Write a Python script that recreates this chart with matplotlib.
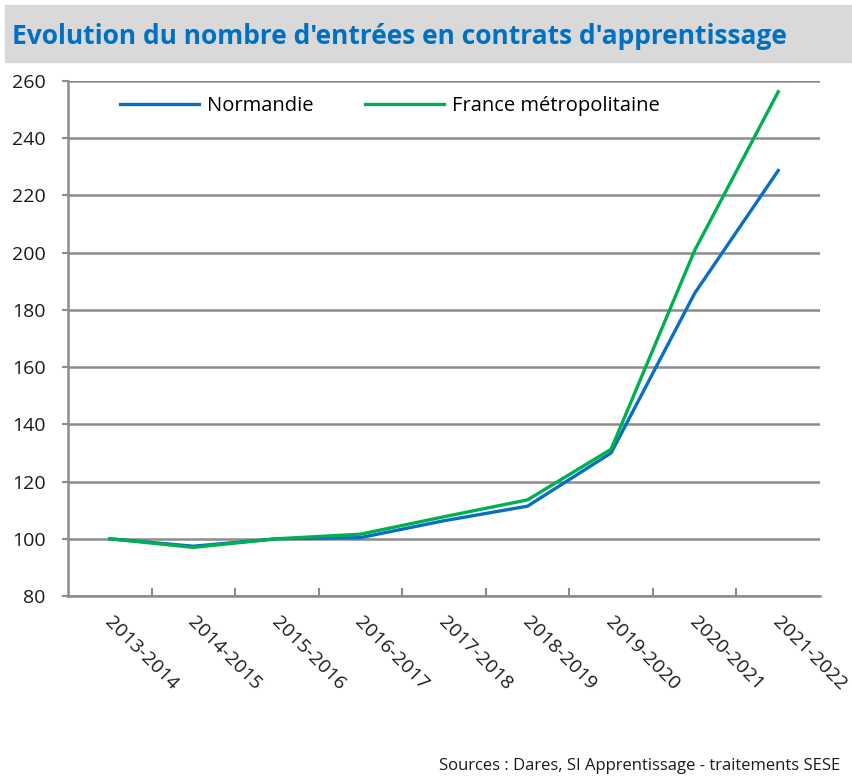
import matplotlib.pyplot as plt
from matplotlib.patches import Rectangle

periodes = ["2013-2014", "2014-2015", "2015-2016", "2016-2017", "2017-2018",
            "2018-2019", "2019-2020", "2020-2021", "2021-2022"]
normandie = [100, 97.4, 100, 100.4, 106.3, 111.4, 130, 185.8, 228.7]
france = [100, 97.0, 100, 101.6, 107.7, 113.6, 131.3, 200.8, 256.2]
y_ticks = [80, 100, 120, 140, 160, 180, 200, 220, 240, 260]

plt.rcParams['font.family'] = ['Open Sans', 'DejaVu Sans']

fig = plt.figure(figsize=(8.53, 7.78), dpi=100)

# bandeau gris du titre
fig.patches.append(Rectangle((5 / 853, 1 - 62 / 778), 848 / 853, 57 / 778,
                             transform=fig.transFigure, color="#d9d9d9", zorder=0))
fig.text(12 / 853, 1 - 36 / 778, "Evolution du nombre d'entrées en contrats d'apprentissage",
         fontsize=19, fontweight='bold', color="#0070c0", va='center', ha='left')

ax = fig.add_axes([68 / 853, 1 - 596 / 778, 752 / 853, 515 / 778])
x = range(len(periodes))
ax.plot(x, normandie, color="#0a6fc2", lw=2.4, label="Normandie", zorder=3)
ax.plot(x, france, color="#00b050", lw=2.4, label="France métropolitaine", zorder=4)

ax.set_xlim(-0.5, len(periodes) - 0.5)
ax.set_ylim(80, 260)
ax.set_yticks(y_ticks)
ax.set_yticklabels([str(v) for v in y_ticks], fontsize=14, color="#1a1a1a")
ax.yaxis.grid(True, color="#8c8c8c", lw=1.8)
ax.set_axisbelow(True)

ax.set_xticks([i - 0.5 for i in range(1, len(periodes))])
ax.set_xticklabels([])
ax.tick_params(axis='x', direction='in', length=6, width=1.5, color="#8c8c8c")
ax.tick_params(axis='y', direction='out', length=4, width=1.5, color="#8c8c8c", pad=12)
for i, lab in enumerate(periodes):
    ax.text(i - 0.03, 71.8, lab, rotation=-45, rotation_mode='anchor', ha='left', va='center',
            fontsize=14, color="#1a1a1a", clip_on=False)

for s in ['top', 'right']:
    ax.spines[s].set_visible(False)
for s in ['left', 'bottom']:
    ax.spines[s].set_color("#8c8c8c")
    ax.spines[s].set_linewidth(1.8)

ax.legend(loc='center left', ncol=2, frameon=False, fontsize=14.5, handlelength=3.9,
          handletextpad=0.4, columnspacing=2.6, borderpad=0, borderaxespad=0,
          bbox_to_anchor=(52 / 752, 1 - 25 / 515))

fig.text(840 / 853, 1 - 766 / 778, "Sources : Dares, SI Apprentissage - traitements SESE",
         fontsize=12, ha='right', va='center', color="#1a1a1a")

fig.savefig("out.png", dpi=100)
